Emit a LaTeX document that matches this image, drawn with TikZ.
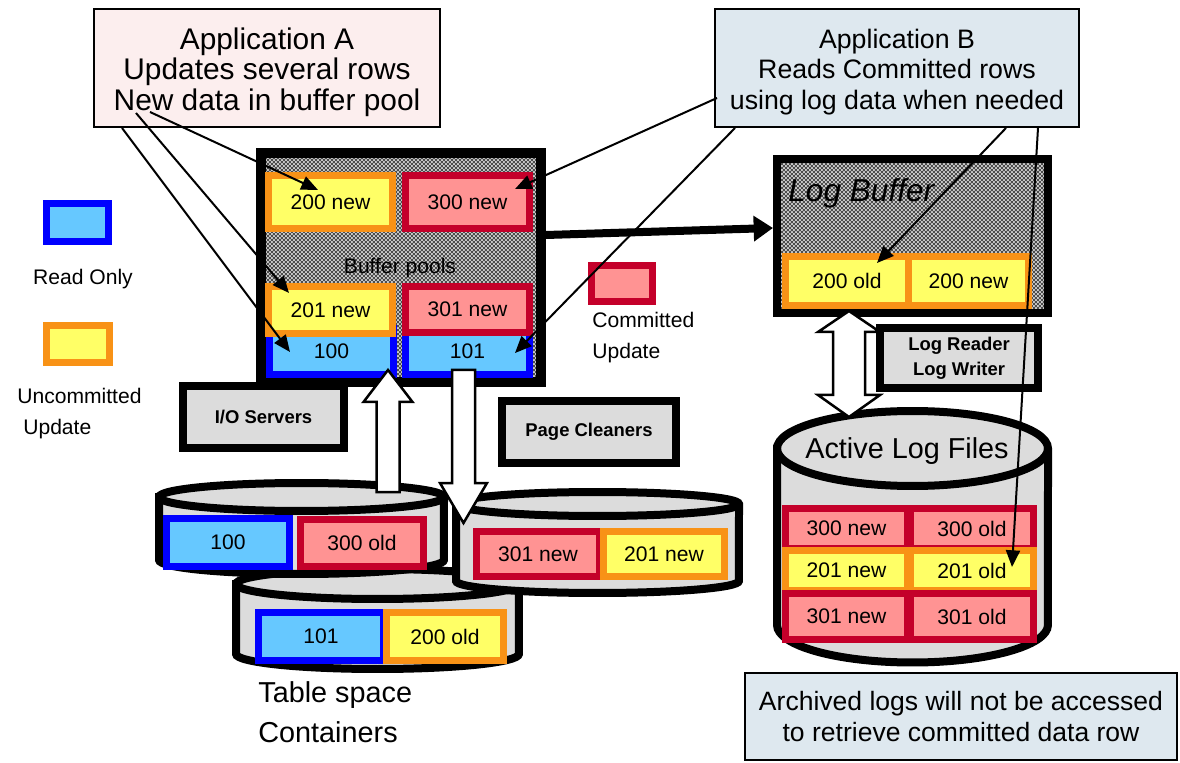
\documentclass[tikz,border=0pt]{standalone}
\usepackage{fontspec}
\setmainfont{Liberation Sans}
\usetikzlibrary{arrows.meta,calc,patterns.meta}
\definecolor{cOr}{RGB}{248,146,22}
\definecolor{cYe}{RGB}{255,255,102}
\definecolor{cCr}{RGB}{196,0,42}
\definecolor{cPk}{RGB}{255,147,147}
\definecolor{cBl}{RGB}{0,0,255}
\definecolor{cLb}{RGB}{102,200,255}
\definecolor{cGr}{RGB}{220,220,220}
\definecolor{cAppA}{RGB}{252,238,238}
\definecolor{cAppB}{RGB}{222,232,239}
\definecolor{cDith}{RGB}{200,200,200}
\tikzdeclarepattern{
  name=finecheck,
  type=uncolored,
  bottom left={(0pt,0pt)},
  top right={(2.268pt,2.268pt)},
  tile size={(2.268pt,2.268pt)},
  code={\pgfpathrectangle{\pgfpointorigin}{\pgfqpoint{1.134pt}{1.134pt}}%
        \pgfpathrectangle{\pgfqpoint{1.134pt}{1.134pt}}{\pgfqpoint{1.134pt}{1.134pt}}%
        \pgfusepath{fill}}
}
\begin{document}
\begin{tikzpicture}[x=0.02cm,y=-0.02cm,
  wh/.style 2 args={minimum width=#1*0.02cm, minimum height=#2*0.02cm},
  cell/.style={draw, line width=0.14cm, inner sep=0pt, font=\fontsize{12}{14}\selectfont},
  ycell/.style={cell, draw=cOr, fill=cYe},
  rcell/.style={cell, draw=cCr, fill=cPk},
  bcell/.style={cell, draw=cBl, fill=cLb},
  procbox/.style={draw=black, fill=cGr, line width=0.16cm, inner sep=0pt, align=center,
    font=\fontsize{10.5}{14.2}\selectfont\bfseries},
  memory/.style={draw=black, line width=0.16cm, preaction={fill=cDith}, pattern=finecheck,
    pattern color=black!70, inner sep=0pt},
  appbox/.style={draw=black, line width=0.04cm, inner sep=0pt, align=center},
  cyl/.style={draw=black, fill=cGr, line width=0.16cm},
  blockarrow/.style={draw=black, fill=white, line width=0.05cm, line join=miter},
  ptr/.style={draw=black, line width=0.04cm, -{Triangle[length=9.5pt,width=8pt]}},
  bigptr/.style={draw=black, line width=0.16cm, -{Triangle[length=11pt,width=14pt]}},
  lbl/.style={inner sep=0pt, align=center}
]
\useasboundingbox (0,0) rectangle (1180,763);

% Applications
\node[appbox, fill=cAppA, wh={346}{118}, font=\fontsize{17}{17.3}\selectfont] (appA) at (267,68)
  {\rule{0pt}{16.8pt}Application A\\Updates several rows\\New data in buffer pool};
\node[appbox, fill=cAppB, wh={364}{118}, font=\fontsize{15.2}{17.3}\selectfont] (appB) at (897,68)
  {\rule{0pt}{15.6pt}Application B\\Reads Committed rows\\using log data when needed};

% Legend
\node[bcell, wh={62}{38}] (lgR) at (77.5,222.5) {};
\node[lbl, font=\fontsize{12}{14}\selectfont] (lgRt) at (83,279) {Read Only};
\node[ycell, wh={63}{37}] (lgU) at (78,344) {};
\node[lbl, anchor=west, align=left, font=\fontsize{12}{17.6}\selectfont] (lgUt) at (17,413.5)
  {Uncommitted\\\hspace*{3.4pt}Update};
\node[rcell, wh={61}{36}] (lgC) at (622,283.5) {};
\node[lbl, anchor=west, align=left, font=\fontsize{12}{17.6}\selectfont] (lgCt) at (592,337.5)
  {Committed\\Update};

% Buffer pool
\node[memory, line width=0.2cm, wh={280}{229}] (bp) at (401,267.5) {};
\node[ycell, wh={124}{53}] (b200n) at (330.5,202) {200 new};
\node[rcell, wh={124}{53}] (b300n) at (467.5,202) {300 new};
\node[bcell, wh={124}{46}] (b100) at (331.5,351.5) {100};
\node[bcell, wh={124}{46}] (b101) at (467.5,351.5) {101};
\node[ycell, wh={124}{47}] (b201n) at (330.5,310) {201 new};
\node[rcell, wh={124}{46}] (b301n) at (467.5,309.5) {301 new};
\node[lbl, font=\fontsize{12}{14}\selectfont] (bpt) at (400,268) {Buffer pools};

% Log buffer
\node[memory, wh={271}{154}] (lb) at (912.5,236) {};
\node[lbl, anchor=west, font=\fontsize{18}{20}\selectfont\itshape] (lbt) at (788,193) {Log Buffer};
\node[ycell, wh={123}{49}] (lb200o) at (847,281) {200 old};
\node[ycell, wh={120}{49}] (lb200n) at (968.5,281) {200 new};

% Process boxes
\node[procbox, wh={161}{62}] (io) at (263.5,417) {I/O Servers};
\node[procbox, wh={174}{62}] (pc) at (589,432) {Page Cleaners};

% Table space containers (cylinders)
\path[cyl] (236,584) -- (236,654) arc[start angle=180,end angle=360,x radius=2.83cm,y radius=0.30cm]
  -- (519,584) arc[start angle=0,end angle=180,x radius=2.83cm,y radius=0.30cm] -- cycle;
\draw[cyl, fill=none] (236,584) arc[start angle=180,end angle=360,x radius=2.83cm,y radius=0.30cm];
\node[bcell, wh={125}{48}] (t101) at (321,636.5) {101};
\node[ycell, wh={117}{48}] (t200o) at (445,636.5) {200 old};

\path[cyl] (159,497) -- (159,560) arc[start angle=180,end angle=360,x radius=2.85cm,y radius=0.28cm]
  -- (444,497) arc[start angle=0,end angle=180,x radius=2.85cm,y radius=0.28cm] -- cycle;
\draw[cyl, fill=none] (159,497) arc[start angle=180,end angle=360,x radius=2.85cm,y radius=0.28cm];
\node[bcell, wh={123}{48}] (t100) at (228,542.5) {100};
\node[rcell, wh={123}{47}] (t300o) at (362,543) {300 old};

\path[cyl] (456,504) -- (456,581) arc[start angle=180,end angle=360,x radius=2.83cm,y radius=0.24cm]
  -- (739,504) arc[start angle=0,end angle=180,x radius=2.83cm,y radius=0.24cm] -- cycle;
\draw[cyl, fill=none] (456,504) arc[start angle=180,end angle=360,x radius=2.83cm,y radius=0.24cm];
\node[rcell, wh={123}{45}] (t301n) at (538,554) {301 new};
\node[ycell, wh={121}{45}] (t201n) at (664,554) {201 new};

% Active log files
\path[cyl] (777,448.5) -- (777,625) arc[start angle=180,end angle=360,x radius=2.71cm,y radius=0.75cm]
  -- (1048,448.5) arc[start angle=0,end angle=180,x radius=2.71cm,y radius=0.75cm] -- cycle;
\draw[cyl, fill=none] (777,448.5) arc[start angle=180,end angle=360,x radius=2.71cm,y radius=0.75cm];
\node[lbl, font=\fontsize{16.4}{18}\selectfont] (alt) at (907,451) {Active Log Files};
\node[rcell, wh={122}{40}] (a300n) at (846.5,528.5) {300 new};
\node[rcell, wh={123}{40}] (a300o) at (972,528.5) {300 old};
\node[ycell, wh={122}{40}] (a201n) at (846.5,570.5) {201 new};
\node[ycell, wh={123}{40}] (a201o) at (972,570.5) {201 old};
\node[rcell, wh={122}{46}] (a301n) at (846.5,616.5) {301 new};
\node[rcell, wh={123}{46}] (a301o) at (972,616.5) {301 old};

\node[procbox, wh={158}{60}] (lrw) at (959,358) {Log Reader\\Log Writer};

% Block arrows
\path[blockarrow] (388,370) -- (412.5,402) -- (399.5,402) -- (399.5,492) -- (376.5,492)
  -- (376.5,402) -- (363.5,402) -- cycle;
\path[blockarrow] (452,370) -- (475,370) -- (475,483) -- (487,483) -- (463.5,523)
  -- (440,483) -- (452,483) -- cycle;
\path[blockarrow] (849,311) -- (880,332) -- (865,332) -- (865,395) -- (880,395) -- (849,417)
  -- (818,395) -- (833,395) -- (833,332) -- (818,332) -- cycle;

% Thick arrow buffer pool -> log buffer
\draw[bigptr] ($(bp.east)+(0,-32.5)$) -- ($(lb.west)+(0,-8)$);

% Thin pointer arrows
\coordinate (sA1) at (150,112);
\coordinate (sA2) at (136,113);
\coordinate (sA3) at (122,128);
\coordinate (sB1) at (717,98);
\coordinate (sB2) at (735,128);
\coordinate (sB3) at (1006,128);
\coordinate (sB4) at (1038,128);
\draw[ptr] (sA1) -- ($(b200n)+(-12.5,-12)$);
\draw[ptr] (sA2) -- ($(b201n)+(-41.5,-17)$);
\draw[ptr] (sA3) -- ($(b100)+(-41.5,0.5)$);
\draw[ptr] (sB1) -- ($(b300n)+(47.5,-13)$);
\draw[ptr] (sB2) -- ($(b101)+(47.5,1.5)$);
\draw[ptr] (sB3) -- ($(lb200o)+(30,-18)$);
\draw[ptr] (sB4) -- ($(a201o)+(40,-3.5)$);

% Labels and note
\node[lbl, anchor=west, align=left, font=\fontsize{16.4}{22.7}\selectfont] (tsc) at (258,712)
  {Table space\\Containers};
\node[appbox, fill=cAppB, wh={432}{87}, font=\fontsize{15.1}{18.1}\selectfont] (arch) at (961,716.5)
  {Archived logs will not be accessed\\to retrieve committed data row};
\end{tikzpicture}
\end{document}
